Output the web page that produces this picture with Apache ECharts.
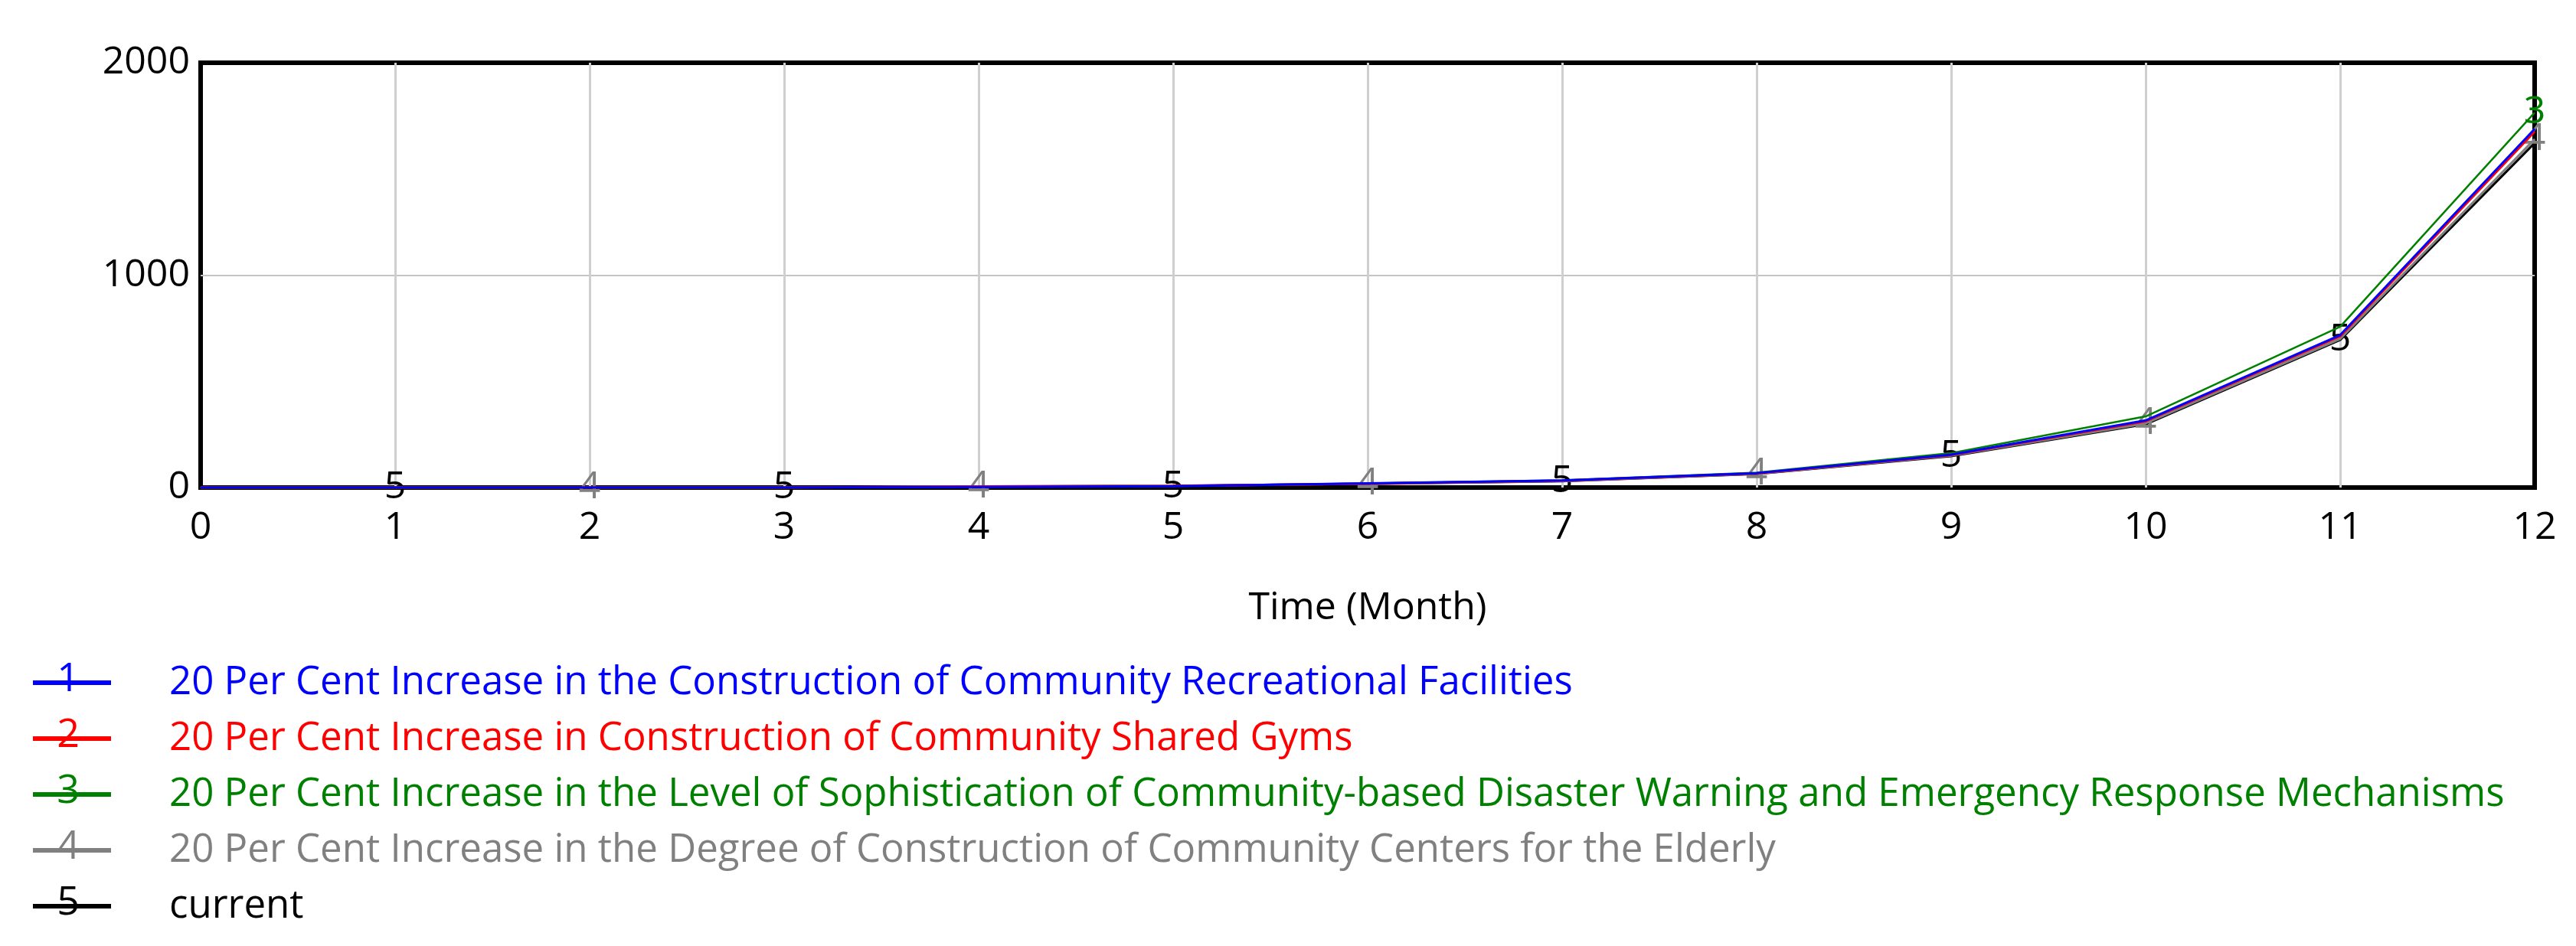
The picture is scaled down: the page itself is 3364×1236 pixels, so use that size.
<!DOCTYPE html>
<html>
<head>
<meta charset="utf-8">
<script src="https://cdn.jsdelivr.net/npm/echarts@6/dist/echarts.min.js"></script>
<style>
  html, body { margin: 0; padding: 0; background: #ffffff; }
  #main { width: 3364px; height: 1236px; }
</style>
</head>
<body>
<div id="main"></div>
<script>
// months on the x axis
const months = [0, 1, 2, 3, 4, 5, 6, 7, 8, 9, 10, 11, 12];

// series values
const recreational = [0, 0, 0, 0, 3, 6, 20, 33, 68, 155, 316, 718, 1688];
const sharedGyms   = [0, 0, 0, 0, 5, 8, 18, 32, 67, 153, 312, 712, 1676];
const disasterWarn = [0, 0, 0, 0, 5, 8, 20, 34, 70, 162, 335, 757, 1765];
const elderly      = [0, 0, 0, 0, 5, 8, 18, 31, 65, 150, 302, 700, 1640];
const current      = [0, 0, 0, 0, 3, 6, 17, 30, 64, 148, 298, 695, 1622];

const names = [
  '20 Per Cent Increase in the Construction of Community Recreational Facilities',
  '20 Per Cent Increase in Construction of Community Shared Gyms',
  '20 Per Cent Increase in the Level of Sophistication of Community-based Disaster Warning and Emergency Response Mechanisms',
  '20 Per Cent Increase in the Degree of Construction of Community Centers for the Elderly',
  'current'
];
const colors = ['#0000ff', '#ff0000', '#008000', '#808080', '#000000'];
const values = [recreational, sharedGyms, disasterWarn, elderly, current];
// months where each line carries its number tag (1 and 2 are hidden under 4 in the original)
const tagMonths = [[], [], [12], [2, 4, 6, 8, 10, 12], [1, 3, 5, 7, 9, 11]];

const FONT = '"Open Sans", "Noto Sans", sans-serif';

const chart = echarts.init(document.getElementById('main'));

const series = values.map((vals, i) => ({
  name: names[i],
  type: 'line',
  z: 10 - i,
  symbol: 'circle',
  symbolSize: 1,
  showSymbol: true,
  lineStyle: { color: colors[i], width: i === 2 ? 2.5 : 3 },
  itemStyle: { color: colors[i] },
  emphasis: { disabled: true },
  animation: false,
  data: vals.map((v, k) => ({
    value: [months[k], v],
    label: {
      show: tagMonths[i].indexOf(months[k]) >= 0,
      formatter: String(i + 1),
      position: 'inside',
      color: colors[i],
      fontSize: 50,
      fontFamily: FONT
    }
  }))
}));

// legend rows, used to put the numbers on the legend lines
const legendTop = 859;
const rowStep = 73;

const option = {
  backgroundColor: '#ffffff',
  animation: false,
  grid: {
    left: 262, right: 54, top: 82, bottom: 599,
    show: true, borderColor: '#000000', borderWidth: 6
  },
  xAxis: {
    type: 'value', min: 0, max: 12, interval: 1,
    name: 'Time (Month)', nameLocation: 'middle', nameGap: 133,
    nameTextStyle: { color: '#000', fontSize: 50, fontFamily: FONT },
    axisLine: { show: false },
    axisTick: { show: false },
    axisLabel: { color: '#000', fontSize: 50, fontFamily: FONT, margin: 28 },
    splitLine: { show: true, showMinLine: false, showMaxLine: false, lineStyle: { color: '#cfcfcf', width: 3 } }
  },
  yAxis: {
    type: 'value', min: 0, max: 2000, interval: 1000,
    axisLine: { show: false },
    axisTick: { show: false },
    axisLabel: { color: '#000', fontSize: 50, fontFamily: FONT, margin: 14, formatter: v => String(v) },
    splitLine: { show: true, showMinLine: false, showMaxLine: false, lineStyle: { color: '#c4c4c4', width: 2 } }
  },
  legend: {
    orient: 'vertical',
    left: 38, top: legendTop,
    icon: 'rect', itemWidth: 102, itemHeight: 6, itemGap: 17,
    selectedMode: false,
    textStyle: { fontSize: 51, fontFamily: FONT, lineHeight: 56, padding: [0, 0, 0, 71] },
    data: names.map((n, i) => ({ name: n, textStyle: { color: colors[i] } }))
  },
  graphic: names.map((n, i) => ({
    type: 'text',
    x: 89,
    y: legendTop + 29 + i * rowStep,
    style: {
      text: String(i + 1), fill: colors[i], fontSize: 52, fontFamily: FONT,
      align: 'center', verticalAlign: 'middle'
    }
  })),
  series: series
};

chart.setOption(option);
</script>
</body>
</html>
